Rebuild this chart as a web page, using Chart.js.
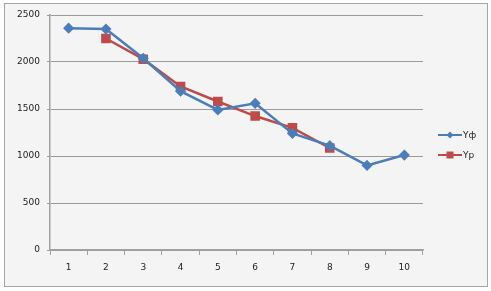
<!DOCTYPE html>
<html>
<head>
<meta charset="utf-8">
<script src="https://cdn.jsdelivr.net/npm/chart.js@4"></script>
<style>
  body { margin: 0; background: #fff; }
  canvas { display: block; }
</style>
</head>
<body>
<canvas id="myChart" width="491" height="291"></canvas>
<script>
const categories = ['1', '2', '3', '4', '5', '6', '7', '8', '9', '10'];
const yFact = [2360, 2350, 2040, 1690, 1490, 1560, 1240, 1110, 900, 1010];
const yCalc = [null, 2250, 2030, 1740, 1580, 1425, 1300, 1085, null, null];
const seriesNames = ['Yф', 'Yp'];

const blue = '#4a7ebb';
const red = '#be4b48';
const font = { family: 'DejaVu Sans', size: 9 };

// frame + excel-ish legend
const frame = {
  id: 'frame',
  beforeDraw(chart) {
    const c = chart.ctx;
    c.save();
    c.fillStyle = '#fff';
    c.fillRect(0, 0, 491, 291);
    c.fillStyle = '#f4f4f4';
    c.fillRect(4.5, 3.5, 483, 283);
    c.strokeStyle = '#a6a6a6';
    c.lineWidth = 1;
    c.strokeRect(4.5, 3.5, 483, 283);
    c.restore();
  },
  afterDraw(chart) {
    const c = chart.ctx;
    const items = [
      { name: seriesNames[0], color: blue, y: 135, shape: 'diamond' },
      { name: seriesNames[1], color: red, y: 155, shape: 'square' }
    ];
    c.save();
    items.forEach(it => {
      c.strokeStyle = it.color;
      c.lineWidth = 2;
      c.beginPath();
      c.moveTo(438, it.y);
      c.lineTo(462, it.y);
      c.stroke();
      c.fillStyle = it.color;
      if (it.shape === 'diamond') {
        c.beginPath();
        c.moveTo(450, it.y - 3.5);
        c.lineTo(453.5, it.y);
        c.lineTo(450, it.y + 3.5);
        c.lineTo(446.5, it.y);
        c.closePath();
        c.fill();
      } else {
        c.fillRect(446.5, it.y - 3.5, 7, 7);
      }
      c.fillStyle = '#222';
      c.font = '9px "DejaVu Sans"';
      c.textBaseline = 'middle';
      c.fillText(it.name, 463, it.y + 0.5);
    });
    c.restore();
  }
};

const ctx = document.getElementById('myChart');

new Chart(ctx, {
  type: 'line',
  data: {
    labels: categories,
    datasets: [{
      label: seriesNames[0],
      data: yFact,
      borderColor: blue,
      backgroundColor: blue,
      borderWidth: 2.5,
      pointStyle: 'rectRot',
      pointRadius: 3.8,
      pointHoverRadius: 3.8,
      tension: 0
    }, {
      label: seriesNames[1],
      data: yCalc,
      borderColor: red,
      backgroundColor: red,
      borderWidth: 2.5,
      pointStyle: 'rect',
      pointRadius: 5,
      pointHoverRadius: 5,
      tension: 0
    }]
  },
  options: {
    responsive: false,
    animation: false,
    events: [],
    layout: { padding: { left: 0, top: 15, right: 68, bottom: 0 } },
    plugins: {
      legend: { display: false },
      tooltip: { enabled: false }
    },
    scales: {
      x: {
        offset: true,
        afterFit: s => { s.height = 41; },
        grid: {
          offset: true,
          drawOnChartArea: false,
          drawTicks: true,
          tickLength: 5,
          color: '#a0a0a0'
        },
        border: { color: '#a0a0a0', width: 1.5 },
        ticks: { color: '#222', font: font, padding: 7, maxRotation: 0 }
      },
      y: {
        min: 0,
        max: 2500,
        afterFit: s => { s.width = 50; },
        grid: {
          color: '#9a9a9a',
          lineWidth: 1,
          tickLength: 3
        },
        border: { color: '#a0a0a0', width: 1.5 },
        ticks: { stepSize: 500, color: '#222', font: font, padding: 7, callback: v => String(v) }
      }
    }
  },
  plugins: [frame]
});
</script>
</body>
</html>
